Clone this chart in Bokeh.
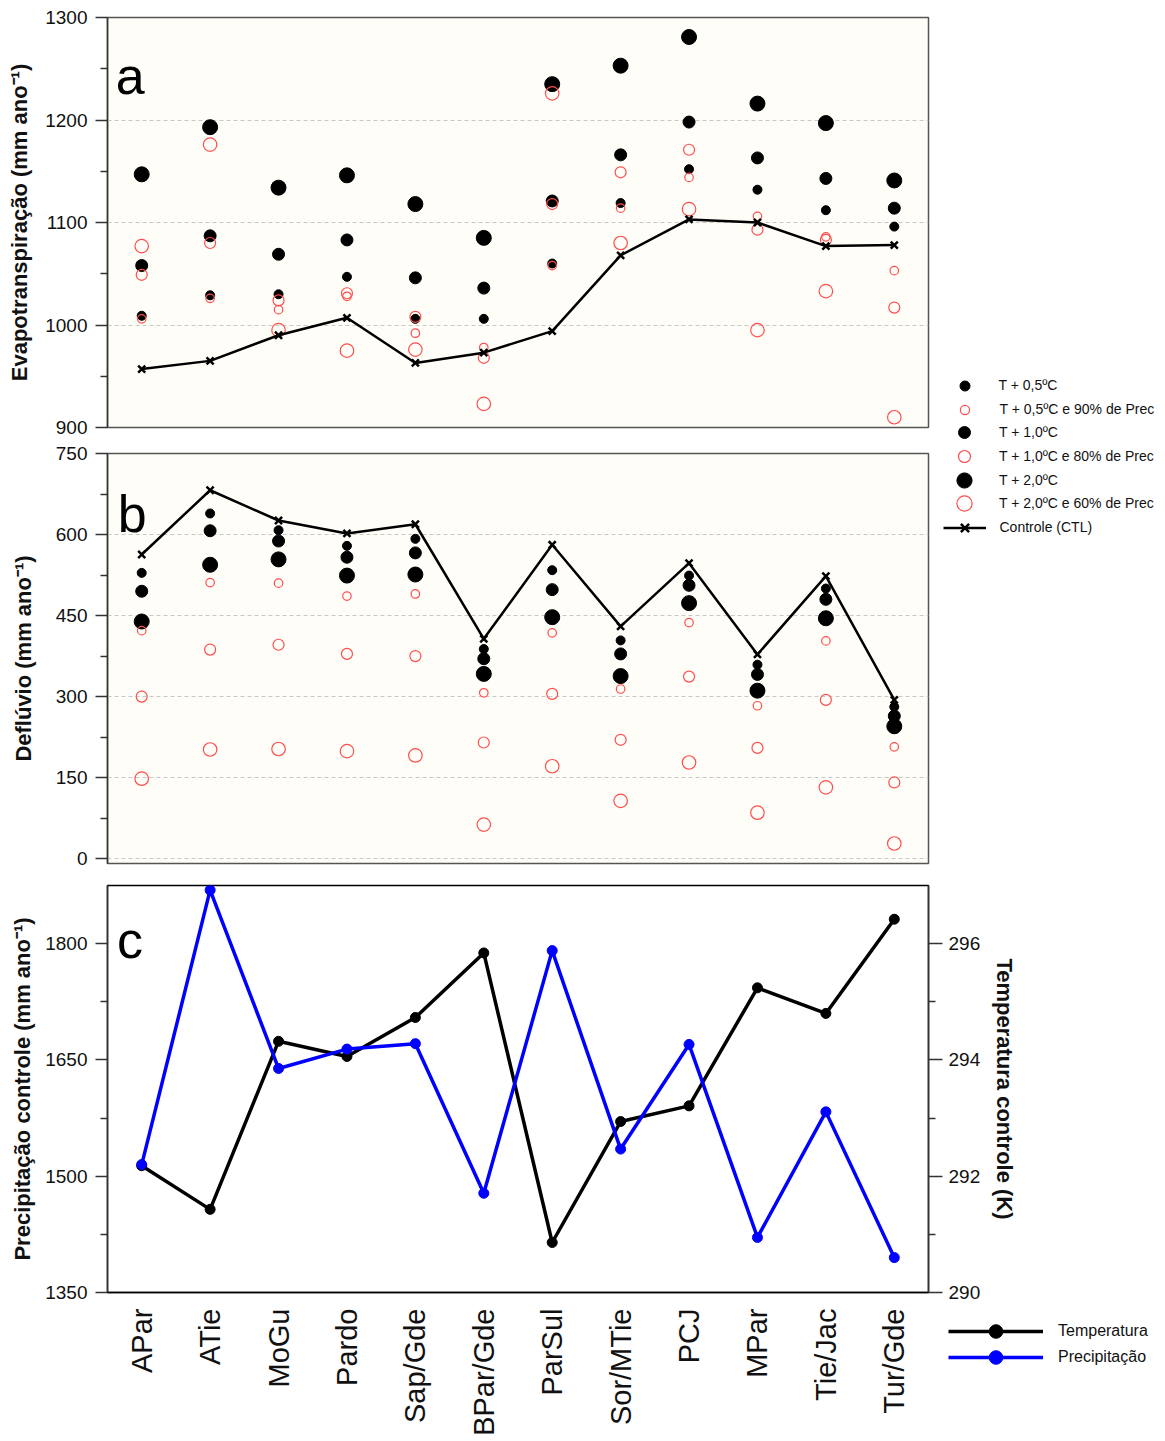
import math
from bokeh.plotting import figure
from bokeh.layouts import column, row
from bokeh.models import FactorRange, Range1d, LinearAxis, FixedTicker, Legend, LegendItem, Label
from bokeh.embed import file_html
from bokeh.resources import INLINE

# ---------------- data ----------------
cats = ["APar", "ATie", "MoGu", "Pardo", "Sap/Gde", "BPar/Gde", "ParSul",
        "Sor/MTie", "PCJ", "MPar", "Tie/Jac", "Tur/Gde"]

# (a) Evapotranspiração (mm ano-1)
et_ctl    = [957, 965, 990, 1007, 963, 973, 994, 1068, 1103, 1100, 1077, 1078]
et_t05    = [1009, 1029, 1030, 1047, 1006, 1006, 1060, 1119, 1152, 1132, 1112, 1096]
et_t10    = [1058, 1087, 1069, 1083, 1046, 1036, 1121, 1166, 1198, 1163, 1143, 1114]
et_t20    = [1147, 1193, 1134, 1146, 1118, 1085, 1235, 1253, 1281, 1216, 1197, 1141]
et_t05p90 = [1006, 1026, 1015, 1028, 992, 978, 1058, 1114, 1144, 1106, 1086, 1053]
et_t10p80 = [1049, 1080, 1024, 1031, 1008, 968, 1118, 1149, 1171, 1093, 1083, 1017]
et_t20p60 = [1077, 1176, 995, 975, 976, 923, 1226, 1080, 1113, 995, 1033, 910]

# (b) Deflúvio (mm ano-1)
q_ctl    = [563, 682, 626, 602, 619, 407, 581, 430, 547, 378, 523, 294]
q_t05    = [529, 639, 608, 579, 592, 388, 534, 404, 524, 359, 500, 281]
q_t10    = [495, 607, 588, 558, 566, 370, 498, 379, 506, 341, 480, 264]
q_t20    = [439, 544, 554, 524, 526, 342, 447, 338, 473, 311, 445, 245]
q_t05p90 = [422, 511, 510, 486, 490, 307, 418, 314, 437, 283, 403, 207]
q_t10p80 = [300, 387, 396, 379, 375, 215, 305, 220, 337, 205, 294, 141]
q_t20p60 = [148, 202, 203, 199, 191, 63, 171, 107, 178, 85, 132, 28]

# (c) controle
p_ctl = [1515, 1869, 1639, 1664, 1671, 1478, 1791, 1535, 1670, 1421, 1583, 1395]
t_ctl = [292.18, 291.43, 294.32, 294.06, 294.73, 295.84, 290.86, 292.94, 293.21,
         295.24, 294.80, 296.42]

et_ticks, et_minor = [900, 1000, 1100, 1200, 1300], [950, 1050, 1150, 1250]
q_ticks, q_minor = [0, 150, 300, 450, 600, 750], [75, 225, 375, 525, 675]
p_ticks, p_minor = [1350, 1500, 1650, 1800], [1425, 1575, 1725]
t_ticks, t_minor = [290, 292, 294, 296], [291, 293, 295]

legend_ab = ["T + 0,5ºC", "T + 0,5ºC e 90% de Prec", "T + 1,0ºC", "T + 1,0ºC e 80% de Prec",
             "T + 2,0ºC", "T + 2,0ºC e 60% de Prec", "Controle (CTL)"]
legend_c = ["Temperatura", "Precipitação"]

# ---------------- styling ----------------
FONT = "Liberation Sans"
BG = "#FFFDF7"
RED = "#FF4D4D"
BLUE = "#0000FF"
AXC = "#333333"

W_LEFT, W_FRAME, W_RIGHT = 107, 821, 232
FIG_W = W_LEFT + W_FRAME + W_RIGHT

x_range = FactorRange(factors=cats, range_padding=0)


def make_fig(y_range, fh, top, bottom, bg, outline, x_axis):
    return figure(x_range=x_range, y_range=y_range,
                  width=FIG_W, height=top + fh + bottom,
                  min_border_left=W_LEFT, min_border_right=W_RIGHT,
                  min_border_top=top, min_border_bottom=bottom,
                  x_axis_location="below" if x_axis else None,
                  output_backend="svg", toolbar_location=None,
                  background_fill_color=bg, border_fill_color="white",
                  outline_line_color=outline, outline_line_width=1.5)


def style_y(ax, ticks, minor, label, standoff, tick_out=12, lab_standoff=8):
    ax.ticker = FixedTicker(ticks=ticks, minor_ticks=minor)
    ax.axis_label = label
    ax.axis_label_text_font = FONT
    ax.axis_label_text_font_style = "bold"
    ax.axis_label_text_font_size = "22px"
    ax.axis_label_text_color = "#111111"
    ax.axis_label_standoff = standoff
    ax.major_label_text_font = FONT
    ax.major_label_text_font_size = "19px"
    ax.major_label_text_color = "#111111"
    ax.major_label_standoff = lab_standoff
    ax.major_tick_out = tick_out
    ax.major_tick_in = 0
    ax.minor_tick_out = 7
    ax.minor_tick_in = 0
    ax.axis_line_color = AXC
    ax.major_tick_line_color = AXC
    ax.minor_tick_line_color = AXC
    ax.axis_line_width = 1.5
    ax.major_tick_line_width = 1.5
    ax.minor_tick_line_width = 1.5


def scenario_glyphs(p, ctl, t05, t10, t20, p90, p80, p60):
    r = {}
    r["t05"] = p.scatter(cats, t05, size=9, color="black")
    r["t10"] = p.scatter(cats, t10, size=12, color="black")
    r["t20"] = p.scatter(cats, t20, size=15, color="black")
    r["p90"] = p.scatter(cats, p90, size=8.5, fill_color=None, line_color=RED, line_width=1.2)
    r["p80"] = p.scatter(cats, p80, size=11, fill_color=None, line_color=RED, line_width=1.2)
    r["p60"] = p.scatter(cats, p60, size=13.5, fill_color=None, line_color=RED, line_width=1.2)
    r["cl"] = p.line(cats, ctl, line_color="black", line_width=2.5)
    r["cm"] = p.scatter(cats, ctl, marker="x", size=10, line_color="black", line_width=2.5)
    return r


# ---------------- panel a ----------------
A_TOP, A_H, A_BOT = 17, 410, 13
pa = make_fig(Range1d(900, 1300), A_H, A_TOP, A_BOT, BG, "#555555", False)
style_y(pa.yaxis[0], et_ticks, et_minor, "Evapotranspiração (mm ano⁻¹)", 10)
pa.ygrid.ticker = FixedTicker(ticks=[1000, 1100, 1200])
pa.ygrid.grid_line_color = "#c8c8c8"
pa.ygrid.grid_line_dash = "4 3"
pa.xgrid.visible = False
scenario_glyphs(pa, et_ctl, et_t05, et_t10, et_t20, et_t05p90, et_t10p80, et_t20p60)
pa.add_layout(Label(x=0.12, y=1243, text="a", text_font=FONT, text_font_size="52px",
                    text_baseline="alphabetic", text_color="black"))

# ---------------- panel b ----------------
B_TOP, B_H, B_BOT = 13, 410, 11
pb = make_fig(Range1d(-9, 750), B_H, B_TOP, B_BOT, BG, "#555555", False)
style_y(pb.yaxis[0], q_ticks, q_minor, "Deflúvio (mm ano⁻¹)", 17)
pb.ygrid.ticker = FixedTicker(ticks=[0, 150, 300, 450, 600])
pb.ygrid.grid_line_color = "#c8c8c8"
pb.ygrid.grid_line_dash = "4 3"
pb.xgrid.visible = False
scenario_glyphs(pb, q_ctl, q_t05, q_t10, q_t20, q_t05p90, q_t10p80, q_t20p60)
pb.add_layout(Label(x=0.15, y=638, text="b", text_font=FONT, text_font_size="52px",
                    text_baseline="alphabetic", text_color="black"))

# ---------------- panel c ----------------
C_TOP, C_H, C_BOT = 11, 411, 142
pc = make_fig(Range1d(1350, 1875), C_H, C_TOP, C_BOT, "white", "black", True)
pc.extra_y_ranges = {"temp": Range1d(290, 297)}
style_y(pc.yaxis[0], p_ticks, p_minor, "Precipitação controle (mm ano⁻¹)", 7)
rax = LinearAxis(y_range_name="temp")
style_y(rax, t_ticks, t_minor, "Temperatura controle (K)", 9, tick_out=14, lab_standoff=6)
pc.add_layout(rax, "right")
pc.xgrid.visible = False
pc.ygrid.visible = False
xa = pc.xaxis[0]
xa.major_label_orientation = math.pi / 2
xa.major_label_text_font = FONT
xa.major_label_text_font_size = "29px"
xa.major_label_text_color = "#111111"
xa.major_label_standoff = 10
xa.major_tick_line_color = None
xa.axis_line_color = "black"
xa.axis_line_width = 1.5

pc.line(cats, t_ctl, y_range_name="temp", line_color="black", line_width=3.5)
pc.scatter(cats, t_ctl, y_range_name="temp", size=10, color="black")
pc.line(cats, p_ctl, line_color=BLUE, line_width=3.5)
pc.scatter(cats, p_ctl, size=10, color=BLUE)
pc.add_layout(Label(x=0.14, y=1805, text="c", text_font=FONT, text_font_size="52px",
                    text_baseline="alphabetic", text_color="black"))

# ---------------- legend figure (transparent, overlaid on the right side) ----------------
LG_X, LG_Y, LG_W, LG_H = 936, 368, 224, 1010
lg = figure(width=LG_W, height=LG_H,
            x_range=FactorRange(factors=cats, range_padding=0), y_range=Range1d(-2, -1),
            x_axis_location=None, y_axis_location=None,
            min_border=0, min_border_left=0, min_border_right=0,
            min_border_top=0, min_border_bottom=0,
            output_backend="svg", toolbar_location=None,
            outline_line_color=None, background_fill_alpha=0, border_fill_alpha=0,
            margin=(LG_Y, 0, 0, LG_X - FIG_W))
lg.xgrid.visible = False
lg.ygrid.visible = False

# legend keys: same series, drawn with the same styles (their data lie outside this frame)
k = scenario_glyphs(lg, et_ctl, et_t05, et_t10, et_t20, et_t05p90, et_t10p80, et_t20p60)
k_tl = lg.line(cats, p_ctl, line_color="black", line_width=3.5)
k_tm = lg.scatter(cats, p_ctl, size=10, color="black")
k_pl = lg.line(cats, p_ctl, line_color=BLUE, line_width=3.5)
k_pm = lg.scatter(cats, p_ctl, size=10, color=BLUE)


def add_item(label, renderers, gx, gy, gw, gh, text_x, fsize):
    leg = Legend(items=[LegendItem(label=label, renderers=renderers)],
                 location=(gx - gw / 2 - LG_X, (LG_Y + LG_H) - gy - gh / 2),
                 glyph_width=gw, glyph_height=gh, label_height=gh,
                 label_standoff=int(round(text_x - (gx + gw / 2))),
                 padding=0, margin=0, spacing=0,
                 border_line_color=None, background_fill_alpha=0,
                 inactive_fill_alpha=0,
                 label_text_font=FONT, label_text_font_size=fsize,
                 label_text_color="#111111")
    lg.add_layout(leg)


GX, TX = 964, 999
add_item(legend_ab[0], [k["t05"]], GX, 385, 25, 25, TX, "14px")
add_item(legend_ab[1], [k["p90"]], GX, 409, 23, 23, TX, "14px")
add_item(legend_ab[2], [k["t10"]], GX, 432, 30, 30, TX, "14px")
add_item(legend_ab[3], [k["p80"]], GX, 456, 30, 30, TX, "14px")
add_item(legend_ab[4], [k["t20"]], GX, 480, 38, 38, TX, "14px")
add_item(legend_ab[5], [k["p60"]], GX, 503, 38, 38, TX, "14px")
add_item(legend_ab[6], [k["cl"], k["cm"]], GX, 527, 43, 29, TX, "14px")
add_item(legend_c[0], [k_tl, k_tm], 995.5, 1331, 95, 34, 1058, "16px")
add_item(legend_c[1], [k_pl, k_pm], 995.5, 1357, 95, 34, 1058, "16px")

layout = row(column(pa, pb, pc, spacing=0), lg, spacing=0)
open("out.html", "w").write(file_html(layout, INLINE))
